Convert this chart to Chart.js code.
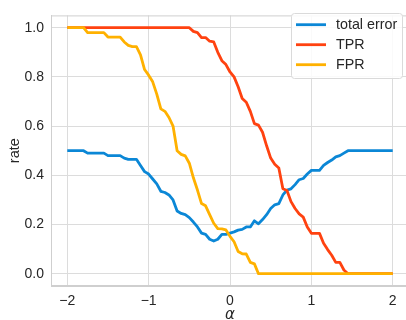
<!DOCTYPE html>
<html>
<head>
<meta charset="utf-8">
<script src="https://cdn.jsdelivr.net/npm/chart.js@4"></script>
<style>
  html, body { margin: 0; padding: 0; background: #fff; overflow: hidden; }
  #wrap { width: 406px; height: 320px; overflow: hidden; }
  canvas { display: block; }
</style>
</head>
<body>
<div id="wrap"><canvas id="chart" width="410" height="320"></canvas></div>
<script>
// alpha values (x axis)
const alpha = [
  -2.00, -1.95, -1.90, -1.85, -1.80, -1.75, -1.70, -1.65, -1.60, -1.55,
  -1.50, -1.45, -1.40, -1.35, -1.30, -1.25, -1.20, -1.15, -1.10, -1.05,
  -1.00, -0.95, -0.90, -0.85, -0.80, -0.75, -0.70, -0.65, -0.60, -0.55,
  -0.50, -0.45, -0.40, -0.35, -0.30, -0.25, -0.20, -0.15, -0.10, -0.05,
   0.00,  0.05,  0.10,  0.15,  0.20,  0.25,  0.30,  0.35,  0.40,  0.45,
   0.50,  0.55,  0.60,  0.65,  0.70,  0.75,  0.80,  0.85,  0.90,  0.95,
   1.00,  1.05,  1.10,  1.15,  1.20,  1.25,  1.30,  1.35,  1.40,  1.45,
   1.50,  1.55,  1.60,  1.65,  1.70,  1.75,  1.80,  1.85,  1.90,  1.95,
   2.00
];

const totalError = [
  0.50, 0.50, 0.50, 0.50, 0.50, 0.49, 0.49, 0.49, 0.49, 0.49,
  0.48, 0.48, 0.48, 0.48, 0.47, 0.465, 0.465, 0.465, 0.44, 0.415,
  0.405, 0.385, 0.365, 0.335, 0.33, 0.32, 0.30, 0.255, 0.245, 0.24,
  0.228, 0.21, 0.19, 0.165, 0.16, 0.14, 0.133, 0.14, 0.16, 0.16,
  0.165, 0.17, 0.177, 0.18, 0.19, 0.19, 0.215, 0.203, 0.22, 0.24,
  0.265, 0.28, 0.285, 0.32, 0.34, 0.345, 0.362, 0.382, 0.387, 0.405,
  0.42, 0.42, 0.42, 0.44, 0.452, 0.462, 0.475, 0.48, 0.49, 0.50,
  0.50, 0.50, 0.50, 0.50, 0.50, 0.50, 0.50, 0.50, 0.50, 0.50,
  0.50
];

const tpr = [
  1.0, 1.0, 1.0, 1.0, 1.0, 1.0, 1.0, 1.0, 1.0, 1.0,
  1.0, 1.0, 1.0, 1.0, 1.0, 1.0, 1.0, 1.0, 1.0, 1.0,
  1.0, 1.0, 1.0, 1.0, 1.0, 1.0, 1.0, 1.0, 1.0, 1.0,
  1.0, 0.985, 0.98, 0.96, 0.96, 0.945, 0.942, 0.90, 0.866, 0.85,
  0.82, 0.80, 0.76, 0.712, 0.697, 0.66, 0.61, 0.604, 0.575, 0.52,
  0.47, 0.445, 0.43, 0.345, 0.338, 0.293, 0.265, 0.243, 0.23, 0.19,
  0.164, 0.164, 0.164, 0.124, 0.098, 0.075, 0.046, 0.046, 0.015, 0.0,
  0.0, 0.0, 0.0, 0.0, 0.0, 0.0, 0.0, 0.0, 0.0, 0.0,
  0.0
];

const fpr = [
  1.0, 1.0, 1.0, 1.0, 1.0, 0.98, 0.98, 0.98, 0.98, 0.98,
  0.962, 0.962, 0.962, 0.962, 0.942, 0.928, 0.923, 0.923, 0.89, 0.83,
  0.807, 0.78, 0.73, 0.67, 0.66, 0.635, 0.60, 0.50, 0.485, 0.479,
  0.449, 0.39, 0.34, 0.285, 0.276, 0.24, 0.205, 0.183, 0.182, 0.178,
  0.152, 0.13, 0.09, 0.081, 0.08, 0.046, 0.04, 0.0, 0.0, 0.0,
  0.0, 0.0, 0.0, 0.0, 0.0, 0.0, 0.0, 0.0, 0.0, 0.0,
  0.0, 0.0, 0.0, 0.0, 0.0, 0.0, 0.0, 0.0, 0.0, 0.0,
  0.0, 0.0, 0.0, 0.0, 0.0, 0.0, 0.0, 0.0, 0.0, 0.0,
  0.0
];

const xTicks = [-2, -1, 0, 1, 2];
const yTicks = [0, 0.2, 0.4, 0.6, 0.8, 1.0];

const FONT = '"Liberation Sans", Arial, sans-serif';
const TEXT = '#262626';
const GRID = '#dcdcdc';

function toPoints(ys) {
  return alpha.map((a, i) => ({ x: a, y: ys[i] }));
}

function fmtX(v) {
  return v < 0 ? '\u2212' + Math.abs(v) : String(v);
}

// frame round the plot area (top spine too)
const framePlugin = {
  id: 'frame',
  beforeDatasetsDraw(chart) {
    const { ctx, chartArea: a } = chart;
    ctx.save();
    ctx.strokeStyle = '#cfcfcf';
    ctx.lineWidth = 1;
    ctx.strokeRect(a.left + 0.5, a.top + 0.5, a.right - a.left - 1, a.bottom - a.top - 1);
    ctx.restore();
  }
};

// legend drawn inside the plot, upper right
const legendPlugin = {
  id: 'innerLegend',
  afterDatasetsDraw(chart) {
    const ctx = chart.ctx;
    const x = 291, y = 13, w = 111, h = 65;
    ctx.save();
    ctx.beginPath();
    ctx.roundRect(x + 0.5, y + 0.5, w, h, 3);
    ctx.fillStyle = 'rgba(255,255,255,0.85)';
    ctx.fill();
    ctx.strokeStyle = '#dadada';
    ctx.lineWidth = 1;
    ctx.stroke();
    ctx.font = '14.3px ' + FONT;
    ctx.textBaseline = 'middle';
    ctx.fillStyle = TEXT;
    chart.data.datasets.forEach((ds, i) => {
      const ly = 24.7 + i * 20;
      ctx.beginPath();
      ctx.moveTo(296, ly);
      ctx.lineTo(326, ly);
      ctx.strokeStyle = ds.borderColor;
      ctx.lineWidth = 2.8;
      ctx.stroke();
      ctx.fillText(ds.label, 336, ly + 0.5);
    });
    ctx.restore();
  }
};

const lineStyle = {
  pointRadius: 0,
  borderWidth: 2.8,
  tension: 0,
  fill: false,
  borderJoinStyle: 'round'
};

const ctx = document.getElementById('chart').getContext('2d');
new Chart(ctx, {
  type: 'line',
  data: {
    datasets: [
      { label: 'total error', data: toPoints(totalError), borderColor: '#0b87d6', order: 3, ...lineStyle },
      { label: 'TPR', data: toPoints(tpr), borderColor: '#ff4210', order: 2, ...lineStyle },
      { label: 'FPR', data: toPoints(fpr), borderColor: '#ffb100', order: 1, ...lineStyle }
    ]
  },
  options: {
    responsive: false,
    animation: false,
    layout: { padding: { left: 0, top: 6, right: 1, bottom: 0 } },
    plugins: {
      legend: { display: false },
      tooltip: { enabled: false },
      title: { display: false }
    },
    scales: {
      x: {
        type: 'linear',
        min: -2.2,
        max: 2.2,
        afterBuildTicks: s => { s.ticks = xTicks.map(v => ({ value: v })); },
        afterFit: s => { s.height = 34; },
        grid: { color: GRID, drawTicks: false },
        border: { color: '#cfcfcf' },
        ticks: {
          padding: 7,
          color: TEXT,
          font: { family: FONT, size: 14 },
          maxRotation: 0,
          callback: v => fmtX(v)
        },
        title: {
          display: true,
          text: '\u03b1',
          color: TEXT,
          font: { family: '"DejaVu Sans"', size: 15, style: 'italic' },
          padding: { top: 0, bottom: -4 }
        }
      },
      y: {
        type: 'linear',
        min: -0.05,
        max: 1.05,
        afterBuildTicks: s => { s.ticks = yTicks.map(v => ({ value: v })); },
        afterFit: s => { s.width = 51; },
        grid: { color: GRID, drawTicks: false },
        border: { color: '#cfcfcf' },
        ticks: {
          padding: 7,
          color: TEXT,
          font: { family: FONT, size: 14 },
          callback: v => v.toFixed(1)
        },
        title: {
          display: true,
          text: 'rate',
          color: TEXT,
          font: { family: FONT, size: 14.5 },
          padding: { top: 6, bottom: 0 }
        }
      }
    }
  },
  plugins: [framePlugin, legendPlugin]
});
</script>
</body>
</html>
